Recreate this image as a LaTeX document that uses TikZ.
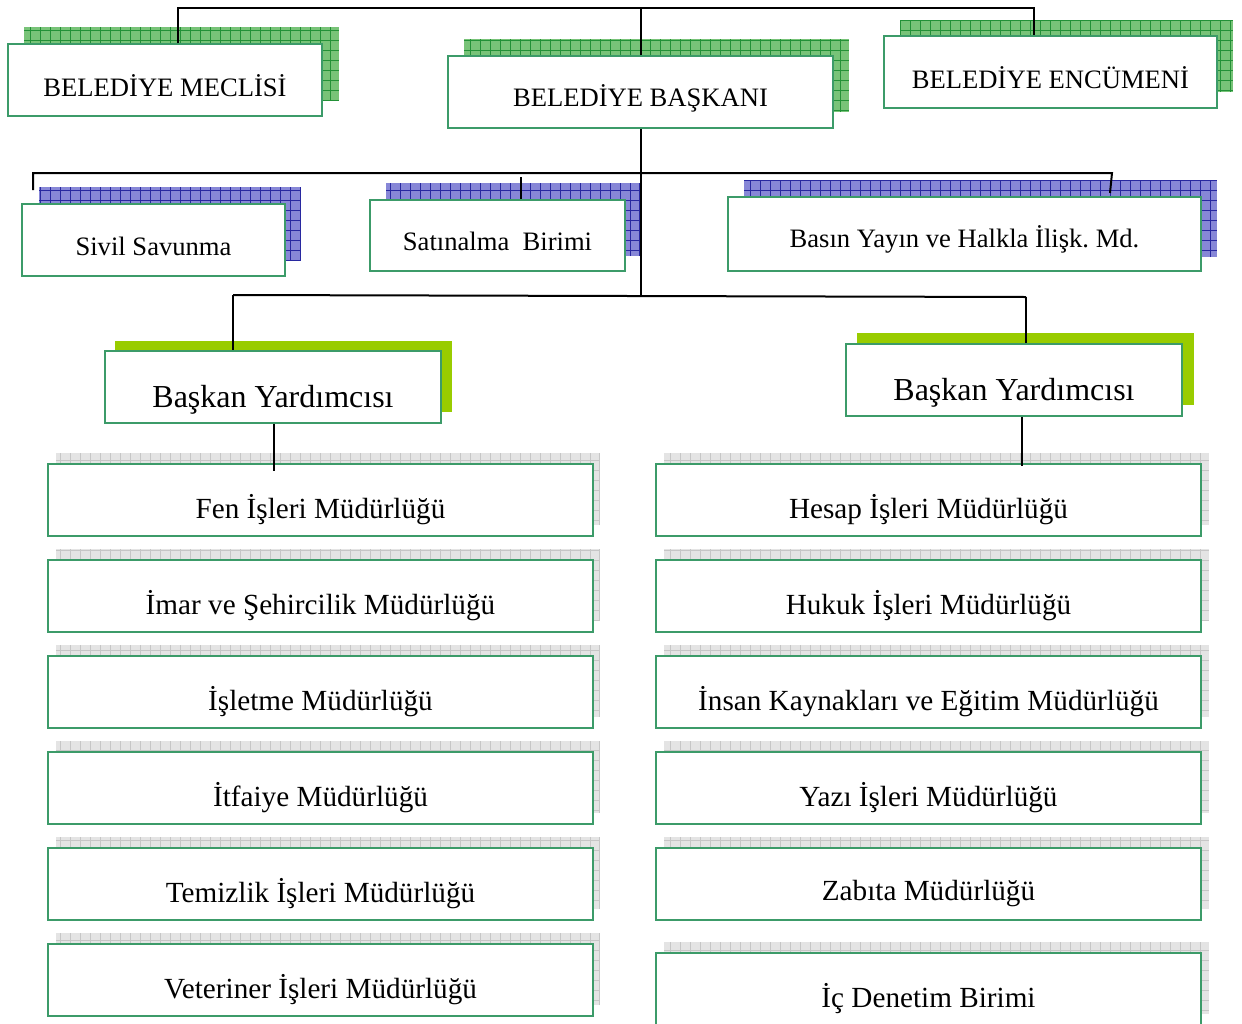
\documentclass[tikz,border=0pt]{standalone}
\usepackage{fontspec}
\setmainfont{Liberation Serif}
\frenchspacing
\definecolor{boxgreen}{RGB}{60,155,105}
\definecolor{gfill}{RGB}{120,195,120}
\definecolor{gline}{RGB}{35,145,55}
\definecolor{bfill}{RGB}{135,135,215}
\definecolor{bline}{RGB}{40,40,160}
\definecolor{sfill}{RGB}{228,228,228}
\definecolor{sline}{RGB}{198,198,198}
\definecolor{ygreen}{RGB}{153,204,0}
\newcommand\gshadow[6]{%
  \begin{scope}
    \clip (#1,#2) rectangle (#3,#4);
    \fill[#5] (#1,#2) rectangle (#3,#4);
    \draw[#6, line width=1pt, step=10pt] (#1,#4) grid (#3,#2);
  \end{scope}}
\tikzset{
  unit/.style={rectangle, draw=boxgreen, line width=2pt, fill=white, inner sep=0pt, minimum height=72pt},
  conn/.style={draw=black, line width=2pt},
  lbl/.style={inner sep=0pt, text=black},
  topfont/.style={font=\fontsize{26.6}{30}\selectfont},
  vyfont/.style={font=\fontsize{32}{36}\selectfont},
  mdfont/.style={font=\fontsize{29.2}{33}\selectfont},
}
\begin{document}
\begin{tikzpicture}[x=1pt,y=-1pt]
\useasboundingbox (0,0) rectangle (1242,1023);
\fill[white] (0,0) rectangle (1242,1023);
% shadows top row
\gshadow{24}{27}{339}{100}{gfill}{gline}
\gshadow{464}{39}{849}{112}{gfill}{gline}
\gshadow{900}{20}{1233}{92}{gfill}{gline}
% shadows second row
\gshadow{39}{187}{301}{260}{bfill}{bline}
\gshadow{386}{183}{640}{256}{bfill}{bline}
\gshadow{744}{180}{1217}{257}{bfill}{bline}
% deputy shadows
\fill[ygreen] (115,341) rectangle (452,412);
\fill[ygreen] (857,333) rectangle (1194,405);
% gray shadows
\foreach \t in {464,560,656,752,848,944}{
  \gshadow{56}{\t-11}{600}{\t+61}{sfill}{sline}
}
\foreach \t in {464,560,656,752,848,953}{
  \gshadow{664}{\t-11}{1209}{\t+61}{sfill}{sline}
}
% top boxes
\node[unit, minimum width=314pt] (meclis) at (165,80) {};
\node[unit, minimum width=385pt] (baskan) at (640.5,92) {};
\node[unit, minimum width=333pt] (encumen) at (1050.5,72) {};
\node[lbl, topfont] (meclis-t) at (165,86) {BELEDİYE MECLİSİ};
\node[lbl, topfont] (baskan-t) at (640.5,98) {BELEDİYE BAŞKANI};
\node[lbl, topfont] (encumen-t) at (1050.5,78) {BELEDİYE ENCÜMENİ};
% second row
\node[unit, minimum width=263pt] (sivil) at (153.5,240) {};
\node[unit, minimum width=255pt, minimum height=71pt] (satin) at (497.5,235.5) {};
\node[unit, minimum width=473pt, minimum height=74pt] (basin) at (964.5,234) {};
\node[lbl, topfont] (sivil-t) at (153.5,246) {Sivil Savunma};
\node[lbl, topfont] (satin-t) at (497.5,241) {Satınalma\ \ Birimi};
\node[lbl, topfont] (basin-t) at (964.5,239.5) {Basın Yayın ve Halkla İlişk. Md.};
% deputies
\node[unit, minimum width=336pt] (vyL) at (273,387) {};
\node[unit, minimum width=336pt] (vyR) at (1014,380) {};
\node[lbl, vyfont] (vyL-t) at (273,400) {Başkan Yardımcısı};
\node[lbl, vyfont] (vyR-t) at (1014,393) {Başkan Yardımcısı};
% left column
\node[unit, minimum width=545pt] (fen) at (320.5,500) {};
\node[unit, minimum width=545pt] (imar) at (320.5,596) {};
\node[unit, minimum width=545pt] (islet) at (320.5,692) {};
\node[unit, minimum width=545pt] (itfa) at (320.5,788) {};
\node[unit, minimum width=545pt] (temiz) at (320.5,884) {};
\node[unit, minimum width=545pt] (vet) at (320.5,980) {};
\node[lbl, mdfont] (fen-t) at (320.5,510) {Fen İşleri Müdürlüğü};
\node[lbl, mdfont] (imar-t) at (320.5,606) {İmar ve Şehircilik Müdürlüğü};
\node[lbl, mdfont] (islet-t) at (320.5,702) {İşletme Müdürlüğü};
\node[lbl, mdfont] (itfa-t) at (320.5,798) {İtfaiye Müdürlüğü};
\node[lbl, mdfont] (temiz-t) at (320.5,894) {Temizlik İşleri Müdürlüğü};
\node[lbl, mdfont] (vet-t) at (320.5,990) {Veteriner İşleri Müdürlüğü};
% right column
\node[unit, minimum width=545pt] (hesap) at (928.5,500) {};
\node[unit, minimum width=545pt] (hukuk) at (928.5,596) {};
\node[unit, minimum width=545pt] (insan) at (928.5,692) {};
\node[unit, minimum width=545pt] (yazi) at (928.5,788) {};
\node[unit, minimum width=545pt] (zabita) at (928.5,884) {};
\node[unit, minimum width=545pt] (icden) at (928.5,989) {};
\node[lbl, mdfont] (hesap-t) at (928.5,510) {Hesap İşleri Müdürlüğü};
\node[lbl, mdfont] (hukuk-t) at (928.5,606) {Hukuk İşleri Müdürlüğü};
\node[lbl, mdfont] (insan-t) at (928.5,702) {İnsan Kaynakları ve Eğitim Müdürlüğü};
\node[lbl, mdfont] (yazi-t) at (928.5,798) {Yazı İşleri Müdürlüğü};
\node[lbl, mdfont] (zabita-t) at (928.5,894) {Zabıta Müdürlüğü};
\node[lbl, mdfont] (icden-t) at (928.5,999) {İç Denetim Birimi};
% connectors
\coordinate (tl) at (178,8);
\coordinate (tr) at (1034,8);
\draw[conn] (meclis.north -| tl) -- (tl) -- (tr) -- (encumen.north -| tr);
\draw[conn] (baskan.north) -- (baskan.north |- tl);
\coordinate (ml) at (33,173);
\coordinate (mlend) at (33,190);
\coordinate (mr) at (1112,173);
\coordinate (mrend) at (1110,193);
\coordinate (sat) at (521,177);
\draw[conn] (mlend) -- (ml) -- (mr) -- (mrend);
\draw[conn] (sat) -- (satin.north -| sat);
\coordinate (bl) at (233,295);
\coordinate (br) at (1026,297);
\draw[conn] (baskan.south) -- (640.5,296);
\draw[conn] (bl) -- (br);
\draw[conn] (bl) -- (vyL.north -| bl);
\draw[conn] (br) -- (vyR.north -| br);
\coordinate (dl) at (274,471);
\coordinate (dr) at (1022,466);
\draw[conn] (vyL.south -| dl) -- (dl);
\draw[conn] (vyR.south -| dr) -- (dr);
\end{tikzpicture}
\end{document}
